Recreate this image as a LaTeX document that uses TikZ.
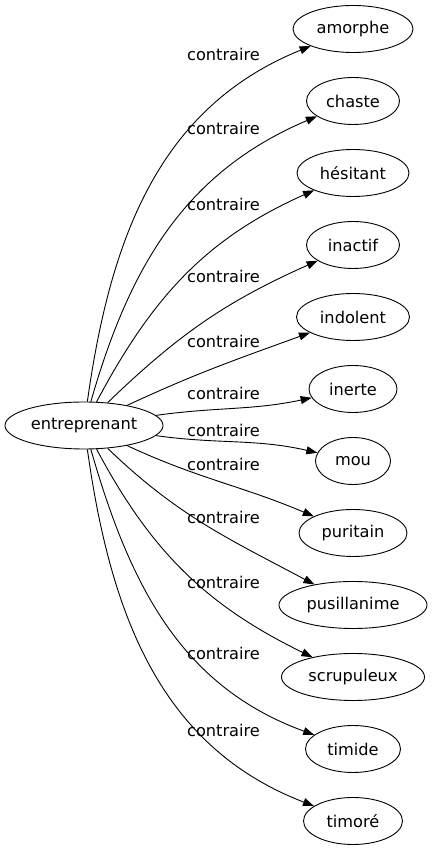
\documentclass[tikz,border=0pt]{standalone}
\usepackage{fontspec}
\setmainfont{DejaVu Sans}
\usetikzlibrary{arrows.meta,shapes.geometric}

\begin{document}
\begin{tikzpicture}[x=1pt, y=1pt,
    word/.style={draw, ellipse, inner sep=0pt, minimum height=47pt, line width=0.9pt,
        font=\fontsize{16.2}{19}\selectfont},
    rel/.style={-{Triangle[length=11pt, width=8pt]}, line width=0.9pt},
    lbl/.style={inner sep=0pt, font=\fontsize{16.2}{19}\selectfont}]
\useasboundingbox (0,0) rectangle (433,851);

% Source word
\node[word, minimum width=158pt] (root) at (84,425.5) {entreprenant};

% Antonyms: name/text/width/y/label y/out/in
\foreach \nm/\txt/\w/\y/\ly/\o/\i in {
    amorphe/amorphe/120pt/822/797/82/202,
    chaste/chaste/93pt/750/723/74/203,
    hesitant/hésitant/112pt/678/647/62/204,
    inactif/inactif/93pt/606/575/44/204,
    indolent/indolent/113pt/534/510/25/200,
    inerte/inerte/88pt/462/458/8/192,
    mou/mou/75pt/390/421/-8/167,
    puritain/puritain/108pt/318/387/-25/157,
    pusillanime/pusillanime/148pt/246/334/-44/152,
    scrupuleux/scrupuleux/143pt/174/269/-62/154,
    timide/timide/95pt/102/198/-74/160,
    timore/timoré/99pt/30/121/-82/159} {
    \node[word, minimum width=\w] (\nm) at (353,\y) {\txt};
    \draw[rel] (root) to[out=\o, in=\i] (\nm);
    \node[lbl] (l-\nm) at (223.5,\ly) {contraire};
}
\end{tikzpicture}
\end{document}
